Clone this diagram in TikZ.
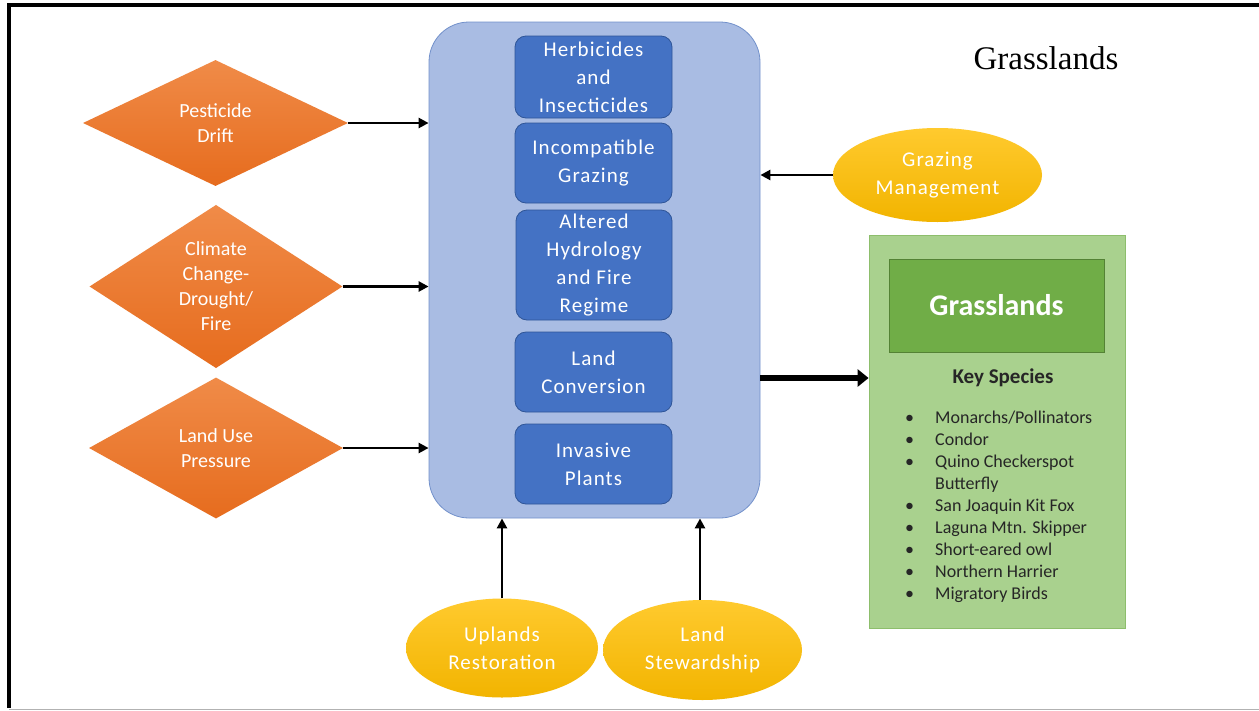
\documentclass[tikz,border=0pt]{standalone}
\usepackage{fontspec}
\newfontfamily\calibri{Carlito}
\newfontfamily\calibriwide[LetterSpace=5]{Carlito}
\newfontfamily\cambria{Liberation Serif}
\usetikzlibrary{arrows.meta,shapes.geometric,positioning}

\definecolor{paleblue}{HTML}{A9BCE3}
\definecolor{paleedge}{HTML}{7391CB}
\definecolor{threatblue}{HTML}{4472C4}
\definecolor{threatedge}{HTML}{2F5597}
\definecolor{orangetop}{HTML}{F08B48}
\definecolor{orangebot}{HTML}{E66C1E}
\definecolor{goldtop}{HTML}{FFCA2E}
\definecolor{goldbot}{HTML}{F2B400}
\definecolor{palegreen}{HTML}{A9D18E}
\definecolor{greenedge}{HTML}{8DBE6C}
\definecolor{darkgreen}{HTML}{70AD47}
\definecolor{darkgreenedge}{HTML}{548235}
\definecolor{listtext}{HTML}{262626}

\tikzset{
	pressure/.style={diamond, inner sep=0pt, top color=orangetop, bottom color=orangebot, text=white, align=center, font=\calibri\fontsize{20}{25}\selectfont},
	threat/.style={rectangle, rounded corners=11pt, fill=threatblue, draw=threatedge, line width=0.8pt, text=white, align=center, inner sep=0pt, minimum width=157pt, font=\calibriwide\fontsize{21}{28}\selectfont},
	action/.style={ellipse, inner sep=0pt, top color=goldtop, bottom color=goldbot, text=white, align=center, font=\calibriwide\fontsize{21}{28}\selectfont},
	feed/.style={line width=2.5pt, -{Triangle[length=10pt, width=10pt]}},
}

\begin{document}
\begin{tikzpicture}[x=1pt, y=-1pt]
			%%%%% START %%%%%
			\useasboundingbox (0,0) rectangle (1259,710);
			\fill[white] (0,0) rectangle (1259,710);
			
			\draw[line width=3.5pt] (9,708) -- (9,5) -- (1259,5);
			\draw[black!30, line width=1pt] (9,709) -- (1259,709);
			
			\node[font=\cambria\fontsize{33}{38}\selectfont] (title) at (1046,58.5) {Grasslands};
			
			% threats
			\node[draw=paleedge, fill=paleblue, line width=0.8pt, rounded corners=40pt, minimum width=331pt, minimum height=496pt, inner sep=0pt] (threats) at (594.5,270) {};
			
			\node[threat, minimum height=82pt] (herbicide) at (593.5,77) {Herbicides\\and\\Insecticides};
			\node[threat, minimum height=80pt] (grazing) at (593.5,163) {Incompatible\\Grazing};
			\node[threat, minimum width=156pt, minimum height=110pt] (hydrology) at (594,265) {Altered\\Hydrology\\and Fire\\Regime};
			\node[threat, minimum height=80pt] (conversion) at (593.5,372) {Land\\Conversion};
			\node[threat, minimum height=80pt] (invasive) at (593.5,464) {Invasive\\Plants};
			
			% pressures
			\node[pressure, minimum width=265pt, minimum height=126pt] (drift) at (215.5,123) {Pesticide\\Drift};
			\node[pressure, minimum width=253pt, minimum height=149pt] (climate) at (216,286.5) {Climate\\Change-\\Drought/\\Fire};
			\node[pressure, minimum width=254pt, minimum height=141pt] (landuse) at (216,448) {Land Use\\Pressure};
			
			\draw[feed] (drift.east) -- (drift.east -| threats.west);
			\draw[feed] (climate.east) -- (climate.east -| threats.west);
			\draw[feed] (landuse.east) -- (landuse.east -| threats.west);
			
			% actions
			\node[action, minimum width=209pt, minimum height=94pt] (grazmgmt) at (937.5,175) {Grazing\\Management};
			\node[action, minimum width=192pt, minimum height=99pt] (uplands) at (502,648) {Uplands\\Restoration};
			\node[action, minimum width=199pt, minimum height=100pt] (stewardship) at (702.5,650) {Land\\Stewardship};
			
			\draw[feed] (grazmgmt.west) -- (grazmgmt.west -| threats.east);
			\draw[feed] (uplands.north) -- (uplands.north |- threats.south);
			\draw[feed] (stewardship.north -| 700,0) -- (threats.south -| 700,0);
			
			% habitat
			\node[draw=greenedge, fill=palegreen, line width=0.8pt, minimum width=256pt, minimum height=393pt, inner sep=0pt] (habitat) at (997,431.5) {};
			\node[draw=darkgreenedge, fill=darkgreen, line width=0.8pt, minimum width=215pt, minimum height=93pt, inner sep=0pt, text=white, font=\calibri\bfseries\fontsize{30}{36}\selectfont] (habname) at (996.5,305.5) {Grasslands};
			\node[font=\calibri\bfseries\fontsize{21}{25}\selectfont, text=listtext] (keyspp) at (1003,378) {Key Species};
			\node[anchor=north west, inner sep=0pt, text=listtext, font=\calibri\fontsize{18}{22}\selectfont] (species) at (905,407.5) {%
				\begin{tabular}{@{}p{30pt}@{}l@{}}
					\textbullet & Monarchs/Pollinators\\
					\textbullet & Condor\\
					\textbullet & Quino Checkerspot\\
					 & Butterfly\\
					\textbullet & San Joaquin Kit Fox\\
					\textbullet & Laguna Mtn. Skipper\\
					\textbullet & Short-eared owl\\
					\textbullet & Northern Harrier\\
					\textbullet & Migratory Birds
				\end{tabular}};
			
			\draw[line width=6pt, -{Triangle[length=11pt, width=17pt]}] (threats.east |- keyspp) -- (habitat.west |- keyspp);
			%%%%% END %%%%%
		\end{tikzpicture}
\end{document}
